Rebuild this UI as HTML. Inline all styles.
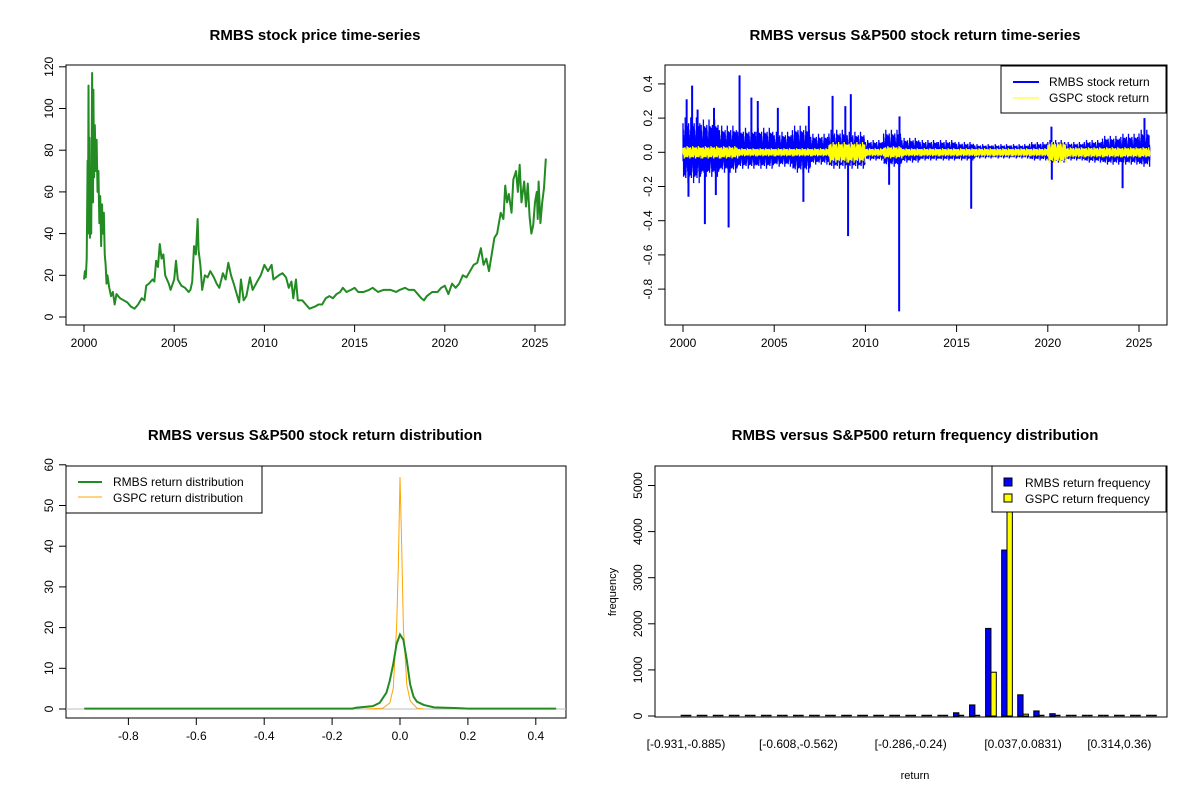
<!DOCTYPE html>
<html><head><meta charset="utf-8"><style>
html,body{margin:0;padding:0;background:#fff}
svg{display:block;font-family:"Liberation Sans",Arial,sans-serif}
</style></head><body>
<svg id="chart" width="1200" height="800" xmlns="http://www.w3.org/2000/svg"></svg>
<script>
// ---------- Panel 1: price series ----------
const priceYears=[2000.0,2000.05,2000.1,2000.15,2000.2,2000.22,2000.25,2000.28,2000.3,2000.33,2000.37,2000.4,2000.45,2000.5,2000.52,2000.56,2000.6,2000.65,2000.7,2000.75,2000.8,2000.85,2000.9,2000.95,2001.0,2001.05,2001.1,2001.15,2001.2,2001.25,2001.3,2001.4,2001.5,2001.6,2001.7,2001.8,2002.0,2002.2,2002.4,2002.6,2002.8,2003.0,2003.2,2003.35,2003.45,2003.6,2003.8,2003.9,2004.0,2004.1,2004.2,2004.3,2004.4,2004.5,2004.7,2004.8,2005.0,2005.1,2005.2,2005.4,2005.6,2005.8,2005.9,2006.0,2006.1,2006.2,2006.3,2006.35,2006.45,2006.55,2006.7,2006.85,2007.0,2007.2,2007.35,2007.5,2007.7,2007.85,2008.0,2008.15,2008.3,2008.5,2008.6,2008.7,2008.85,2009.0,2009.2,2009.35,2009.6,2009.8,2010.0,2010.2,2010.4,2010.5,2010.8,2011.0,2011.2,2011.35,2011.5,2011.6,2011.75,2011.85,2012.1,2012.3,2012.5,2012.8,2013.0,2013.2,2013.4,2013.6,2013.8,2014.0,2014.2,2014.35,2014.55,2014.8,2015.0,2015.2,2015.5,2015.8,2016.0,2016.3,2016.6,2017.0,2017.3,2017.5,2017.8,2018.0,2018.3,2018.5,2018.7,2018.85,2019.0,2019.3,2019.6,2019.8,2020.0,2020.2,2020.4,2020.6,2020.8,2021.0,2021.2,2021.4,2021.6,2021.8,2022.0,2022.15,2022.3,2022.45,2022.6,2022.75,2022.9,2023.1,2023.25,2023.35,2023.45,2023.55,2023.7,2023.8,2023.95,2024.05,2024.15,2024.25,2024.4,2024.5,2024.6,2024.7,2024.8,2024.9,2025.0,2025.1,2025.15,2025.2,2025.3,2025.4,2025.5,2025.6];
const priceValues=[18,22,19,28,75,40,111,45,86,38,62,40,117,55,109,67,92,70,85,60,70,45,58,34,54,40,50,30,25,16,20,14,10,12,6,11,9,8,7,5,4,6,9,8,15,16,18,17,27,24,35,28,30,20,16,13,18,27,18,15,14,12,13,17,34,30,47,32,25,13,20,19,22,19,16,14,21,18,26,20,16,10,7,18,8,10,19,13,17,20,25,22,25,18,20,21,19,14,17,9,18,8,8,6,4,5,6,6,9,10,9,11,12,14,12,13,14,12,12,13,14,12,13,13,12,13,14,13,13,11,9,8,10,12,12,14,15,11,16,14,16,20,19,22,25,26,33,25,28,22,30,38,40,50,47,63,55,59,50,66,70,60,73,55,65,53,64,48,40,44,55,60,47,65,45,55,62,76];
const priceYTicks=[0,20,40,60,80,100,120];
const yearTicks=[2000,2005,2010,2015,2020,2025];

// ---------- Panel 2: returns ----------
const envYears=[2000,2001,2002,2003,2004,2005,2006,2007,2008,2009,2010,2011,2012,2013,2014,2015,2016,2017,2018,2019,2020,2021,2022,2023,2024,2025];
const rmbsHi=[0.17,0.16,0.13,0.12,0.12,0.10,0.13,0.09,0.11,0.10,0.06,0.11,0.07,0.06,0.06,0.05,0.04,0.04,0.04,0.05,0.06,0.05,0.06,0.08,0.09,0.11];
const rmbsLo=[-0.15,-0.12,-0.10,-0.08,-0.08,-0.07,-0.10,-0.06,-0.08,-0.08,-0.04,-0.07,-0.05,-0.04,-0.04,-0.04,-0.03,-0.03,-0.03,-0.04,-0.05,-0.04,-0.05,-0.06,-0.06,-0.07];
const gspcAmp=[0.03,0.03,0.03,0.02,0.02,0.02,0.02,0.02,0.05,0.05,0.02,0.03,0.02,0.02,0.02,0.02,0.02,0.02,0.02,0.02,0.05,0.025,0.025,0.025,0.025,0.025];
const spikeYears=[2000.2,2000.3,2000.5,2000.8,2001.2,2001.7,2001.8,2002.5,2003.1,2003.75,2004.1,2005.2,2006.6,2006.9,2008.2,2008.9,2009.05,2009.2,2011.3,2011.85,2011.87,2015.8,2020.2,2020.22,2024.1,2025.3];
const spikeValues=[0.31,-0.26,0.39,0.25,-0.42,0.26,-0.25,-0.44,0.45,0.32,0.30,0.26,-0.29,0.27,0.33,0.27,-0.49,0.34,-0.19,-0.93,0.21,-0.33,0.15,-0.16,-0.21,0.20];
const pattern=[1,0.35,0.8,0.2,0.6,0.95,0.3,0.7,0.15,0.85,0.45,0.55,0.25,0.9,0.5,0.1,0.75,0.4,1.2,0.3,0.65,0.2,0.5];
const retYTicks=[-0.8,-0.6,-0.4,-0.2,0.0,0.2,0.4];

// ---------- Panel 3: densities ----------
const rmbsDX=[-0.93,-0.14,-0.13,-0.08,-0.06,-0.04,-0.03,-0.02,-0.01,0.0,0.01,0.02,0.03,0.04,0.05,0.07,0.10,0.17,0.20,0.46];
const rmbsDY=[0.1,0.1,0.3,0.7,1.5,4,7,11,16,18.3,17,12,6,3,1.8,1,0.4,0.2,0.1,0.1];
const gspcDX=[-0.10,-0.05,-0.03,-0.02,-0.01,-0.005,0.0,0.005,0.01,0.02,0.03,0.05,0.07];
const gspcDY=[0,0.2,1.5,5,20,35,57,40,20,6,2,0.2,0];
const densXTicks=[-0.8,-0.6,-0.4,-0.2,0.0,0.2,0.4];
const densYTicks=[0,10,20,30,40,50,60];

// ---------- Panel 4: histogram ----------
const rmbsFreq=[1,0,0,0,0,0,0,0,0,0,0,0,0,0,0,20,20,70,240,1900,3600,460,110,50,20,20,15,0,0,0];
const gspcFreq=[0,0,0,0,0,0,0,0,0,0,0,0,0,0,0,0,0,5,25,950,5350,40,20,0,0,0,0,0,0,0];
const binLabels=["[-0.931,-0.885)","[-0.608,-0.562)","[-0.286,-0.24)","[0.037,0.0831)","[0.314,0.36)"];
const binLabelIdx=[0,7,14,21,27];
const freqTicks=[0,1000,2000,3000,4000,5000];

const svg=document.getElementById('chart');
const NS='http://www.w3.org/2000/svg';
function el(tag,attrs,parent){const e=document.createElementNS(NS,tag);for(const k in attrs)e.setAttribute(k,attrs[k]);(parent||svg).appendChild(e);return e;}
function txt(s,x,y,size,anchor,parent,rot,bold){const t=el('text',{x:x,y:y,'font-size':size,'text-anchor':anchor||'middle',fill:'#000'},parent);if(bold)t.setAttribute('font-weight','bold');if(rot)t.setAttribute('transform','rotate(-90 '+x+' '+y+')');t.textContent=s;return t;}

function panel(name){const g=el('g',{});return g;}
function box(g,x0,y0,x1,y1){const r=el('rect',{x:x0,y:y0,width:x1-x0,height:y1-y0,fill:'none',stroke:'#000','stroke-width':1},g);}
function xAxis(g,vals,labels,sx,yb){const a=el('g',{},g);
 el('line',{x1:sx(vals[0]),x2:sx(vals[vals.length-1]),y1:yb,y2:yb,stroke:'#000'},a);
 vals.forEach((v,i)=>{el('line',{x1:sx(v),x2:sx(v),y1:yb,y2:yb+7,stroke:'#000'},a);const t=txt(labels[i],sx(v),yb+22,12,'middle',a);});}
function yAxis(g,vals,labels,sy,xl){const a=el('g',{},g);
 el('line',{y1:sy(vals[0]),y2:sy(vals[vals.length-1]),x1:xl,x2:xl,stroke:'#000'},a);
 vals.forEach((v,i)=>{el('line',{y1:sy(v),y2:sy(v),x1:xl,x2:xl-7,stroke:'#000'},a);const t=txt(labels[i],xl-13,sy(v),12,'middle',a,true);});}

// Panel 1
{const g=panel('price-panel');
 const sx=v=>84+(v-2000)*18.04, sy=v=>317-v*2.085;
 const t=txt('RMBS stock price time-series',315,40,15,'middle',g,false,true);
 box(g,66,65,565,325);
 yAxis(g,priceYTicks,priceYTicks.map(String),sy,66);
 xAxis(g,yearTicks,yearTicks.map(String),sx,325);
 const p=el('polyline',{points:priceYears.map((y,i)=>sx(y)+','+sy(priceValues[i])).join(' '),fill:'none',stroke:'#228B22','stroke-width':2,'stroke-linejoin':'round'},g);
 }

// Panel 2
{const g=panel('return-timeseries-panel');
 const sx=v=>683+(v-2000)*18.24, sy=v=>152.3-v*171;
 const t=txt('RMBS versus S&P500 stock return time-series',915,40,15,'middle',g,false,true);
 box(g,665,65,1167,325);
 yAxis(g,retYTicks,retYTicks.map(v=>v.toFixed(1)),sy,665);
 xAxis(g,yearTicks,yearTicks.map(String),sx,325);
 const N=150;let pts=[],gp=[];
 for(let i=0;i<envYears.length;i++){const span=(i===envYears.length-1)?0.6:1;const n=Math.round(N*span);
  for(let k=0;k<n;k++){const yr=envYears[i]+k*span/n;const f=pattern[k%pattern.length];
   const v=(k%2===0)?rmbsHi[i]*f:rmbsLo[i]*f;pts.push(sx(yr).toFixed(1)+','+sy(v).toFixed(1));
   const gv=(k%2===0?1:-1)*gspcAmp[i]*pattern[(k+7)%pattern.length];gp.push(sx(yr).toFixed(1)+','+sy(gv).toFixed(1));}}
 const r=el('polyline',{points:pts.join(' '),fill:'none',stroke:'#0000FF','stroke-width':1.3},g);
 spikeYears.forEach((y,i)=>{const s=el('line',{x1:sx(y),x2:sx(y),y1:sy(0),y2:sy(spikeValues[i]),stroke:'#0000FF','stroke-width':2},g);});
 const gl=el('polyline',{points:gp.join(' '),fill:'none',stroke:'#FFFF00','stroke-width':1.3},g);
 const L=el('g',{},g);
 el('rect',{x:1001,y:66,width:165,height:47,fill:'#fff',stroke:'#000'},L);
 el('line',{x1:1013,x2:1039,y1:82,y2:82,stroke:'#0000FF','stroke-width':2},L);
 el('line',{x1:1013,x2:1039,y1:98,y2:98,stroke:'#FFFF00','stroke-width':1},L);
 txt('RMBS stock return',1049,86,12,'start',L);txt('GSPC stock return',1049,102,12,'start',L);}

// Panel 3
{const g=panel('return-distribution-panel');
 const sx=v=>400+v*339.5, sy=v=>709-v*4.07;
 const t=txt('RMBS versus S&P500 stock return distribution',315,440,15,'middle',g,false,true);
 box(g,66,466,566,718);
 yAxis(g,densYTicks,densYTicks.map(String),sy,66);
 xAxis(g,densXTicks,densXTicks.map(v=>v.toFixed(1)),sx,718);
 el('line',{x1:66,x2:566,y1:sy(0),y2:sy(0),stroke:'#bebebe'},g);
 const o=el('polyline',{points:gspcDX.map((x,i)=>sx(x)+','+sy(gspcDY[i])).join(' '),fill:'none',stroke:'#FFA500','stroke-width':1},g);
 const gr=el('polyline',{points:rmbsDX.map((x,i)=>sx(x)+','+sy(rmbsDY[i])).join(' '),fill:'none',stroke:'#228B22','stroke-width':2},g);
 const L=el('g',{},g);
 el('rect',{x:66,y:466,width:196,height:47,fill:'#fff',stroke:'#000'},L);
 el('line',{x1:78,x2:102,y1:482,y2:482,stroke:'#228B22','stroke-width':2},L);
 el('line',{x1:78,x2:102,y1:497,y2:497,stroke:'#FFA500','stroke-width':1},L);
 txt('RMBS return distribution',113,486,12,'start',L);txt('GSPC return distribution',113,502,12,'start',L);}

// Panel 4
{const g=panel('return-frequency-panel');
 const cx=i=>686+i*16.05, sy=v=>716-v*0.0461, bw=5.35;
 const t=txt('RMBS versus S&P500 return frequency distribution',915,440,15,'middle',g,false,true);
 yAxis(g,freqTicks,freqTicks.map(String),sy,655);
 function bar(x,v,fill,name){const h=sy(0)-sy(v);
  if(h<1.5){const l=el('line',{x1:x,x2:x+bw,y1:sy(0)-0.5,y2:sy(0)-0.5,stroke:'#000','stroke-width':1.5},g);}
  else{const b=el('rect',{x:x,y:sy(v),width:bw,height:h,fill:fill,stroke:'#000','stroke-width':1},g);}}
 rmbsFreq.forEach((v,i)=>bar(cx(i)-bw,v,'#0000FF','rmbs-frequency-bar'));
 gspcFreq.forEach((v,i)=>bar(cx(i),v,'#FFFF00','gspc-frequency-bar'));
 binLabels.forEach((s,k)=>{const t=txt(s,cx(binLabelIdx[k]),748,12,'middle',g);});
 const xt=txt('return',915,779,11,'middle',g);
 const yt=txt('frequency',616,592,11,'middle',g,true);
 const L=el('g',{},g);
 el('rect',{x:992,y:466,width:174,height:46,fill:'#fff',stroke:'#000'},L);
 el('rect',{x:1004,y:478,width:8,height:8,fill:'#0000FF',stroke:'#000'},L);
 el('rect',{x:1004,y:494,width:8,height:8,fill:'#FFFF00',stroke:'#000'},L);
 txt('RMBS return frequency',1025,487,12,'start',L);txt('GSPC return frequency',1025,503,12,'start',L);
 box(g,655,466,1167,717);}
</script>
</body></html>
